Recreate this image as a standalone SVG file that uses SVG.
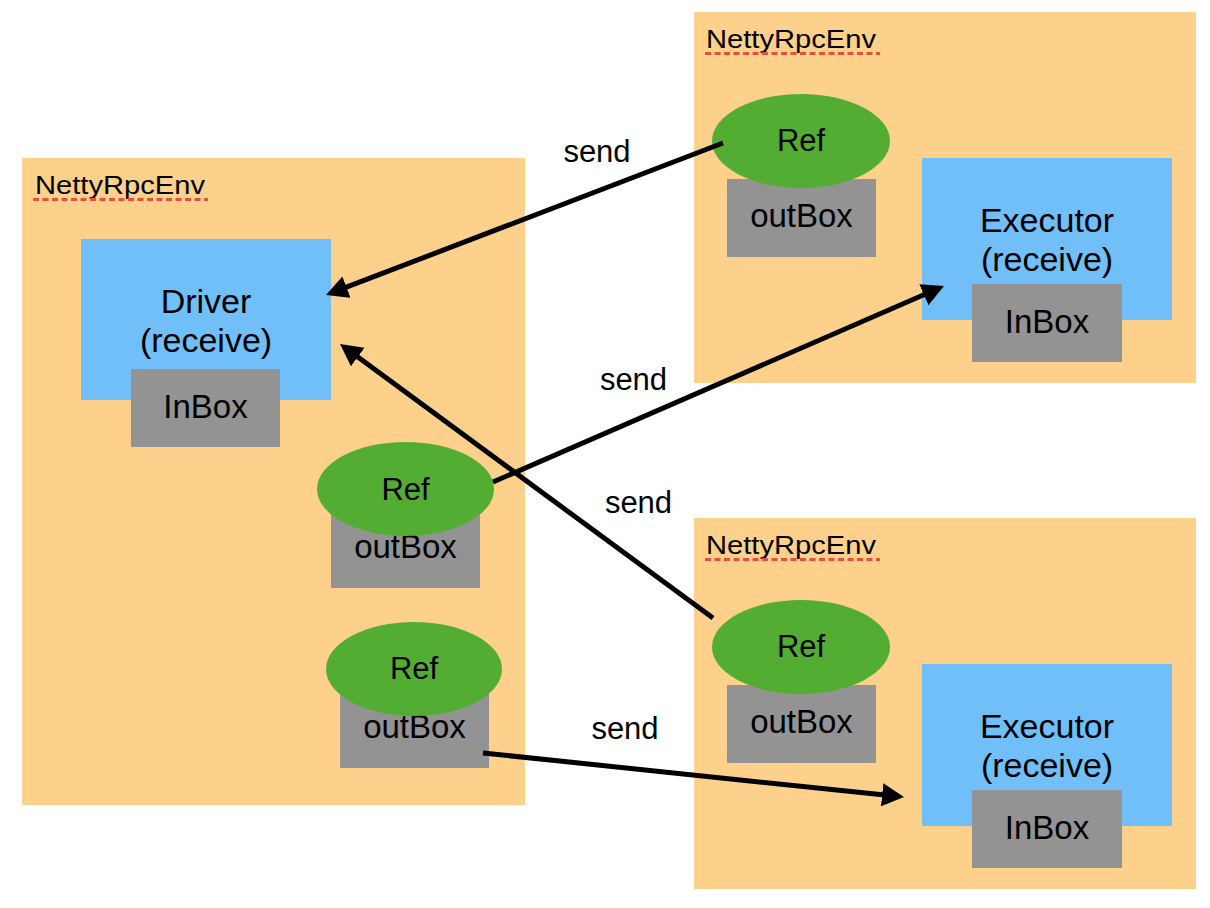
<svg xmlns="http://www.w3.org/2000/svg" width="1210" height="908" viewBox="0 0 1210 908">
<style>
.env{fill:#fdd08b}
.proc{fill:#70bff9}
.box{fill:#939393}
.ref{fill:#54ad33}
.t{font-family:"Liberation Sans",Arial,sans-serif;fill:#000;text-anchor:middle}
.lbl{font-size:34px}
.bl{font-size:33px}
.rl{font-size:31px}
.send{font-size:31px}
.env-t{font-family:"Liberation Sans",Arial,sans-serif;font-size:26px;fill:#000}
.ul{stroke:#e8503e;stroke-width:3;stroke-dasharray:6 3.5;fill:none}
.conn{stroke:#000;stroke-width:5;fill:none;marker-end:url(#ah)}
</style>
<defs>
<marker id="ah" markerUnits="userSpaceOnUse" markerWidth="24" markerHeight="24" refX="10" refY="11.5" orient="auto">
<path d="M0,0 L22,11.5 L0,23 z" fill="#000"/>
</marker>
</defs>
<rect width="1210" height="908" fill="#fff"/>

<g id="env-driver">
<rect class="env" x="22" y="158" width="503" height="647"/>
<text class="env-t" x="35" y="194" textLength="170" lengthAdjust="spacingAndGlyphs">NettyRpcEnv</text>
<line class="ul" x1="33" y1="199.5" x2="208" y2="199.5"/>
</g>
<g id="env-exec1">
<rect class="env" x="694" y="12" width="502" height="371"/>
<text class="env-t" x="706" y="48" textLength="170" lengthAdjust="spacingAndGlyphs">NettyRpcEnv</text>
<line class="ul" x1="705" y1="53.5" x2="880" y2="53.5"/>
</g>
<g id="env-exec2">
<rect class="env" x="694" y="518" width="502" height="371"/>
<text class="env-t" x="706" y="554" textLength="170" lengthAdjust="spacingAndGlyphs">NettyRpcEnv</text>
<line class="ul" x1="705" y1="559.5" x2="880" y2="559.5"/>
</g>

<g id="driver">
<rect class="proc" x="81" y="239" width="250" height="161"/>
<text class="t lbl" x="206" y="313">Driver</text>
<text class="t lbl" x="206" y="352">(receive)</text>
</g>
<g id="driver-inbox">
<rect class="box" x="131" y="369" width="149" height="78"/>
<text class="t bl" x="205.5" y="418">InBox</text>
</g>
<g id="driver-outbox1">
<rect class="box" x="331" y="510" width="149" height="78"/>
<text class="t bl" x="405.5" y="558">outBox</text>
</g>
<g id="driver-ref1">
<ellipse class="ref" cx="405.5" cy="489" rx="88.5" ry="47"/>
<text class="t rl" x="405.5" y="500">Ref</text>
</g>
<g id="driver-outbox2">
<rect class="box" x="340" y="690" width="149" height="78"/>
<text class="t bl" x="414.5" y="738">outBox</text>
</g>
<g id="driver-ref2">
<ellipse class="ref" cx="414" cy="669" rx="88" ry="47"/>
<text class="t rl" x="414" y="679">Ref</text>
</g>

<g id="exec1-outbox">
<rect class="box" x="727" y="179" width="149" height="78"/>
<text class="t bl" x="801.5" y="227">outBox</text>
</g>
<g id="exec1-ref">
<ellipse class="ref" cx="801" cy="141" rx="89" ry="47"/>
<text class="t rl" x="801" y="151">Ref</text>
</g>
<g id="executor1">
<rect class="proc" x="922" y="158" width="250" height="162"/>
<text class="t lbl" x="1047" y="232">Executor</text>
<text class="t lbl" x="1047" y="271">(receive)</text>
</g>
<g id="exec1-inbox">
<rect class="box" x="972" y="284" width="150" height="78"/>
<text class="t bl" x="1047" y="333">InBox</text>
</g>

<g id="exec2-outbox">
<rect class="box" x="727" y="685" width="149" height="78"/>
<text class="t bl" x="801.5" y="733">outBox</text>
</g>
<g id="exec2-ref">
<ellipse class="ref" cx="801" cy="647" rx="89" ry="47"/>
<text class="t rl" x="801" y="657">Ref</text>
</g>
<g id="executor2">
<rect class="proc" x="922" y="664" width="250" height="162"/>
<text class="t lbl" x="1047" y="738">Executor</text>
<text class="t lbl" x="1047" y="777">(receive)</text>
</g>
<g id="exec2-inbox">
<rect class="box" x="972" y="790" width="150" height="78"/>
<text class="t bl" x="1047" y="839">InBox</text>
</g>

<g id="connectors">
<line class="conn" x1="723" y1="143" x2="337.2" y2="290.7"/>
<line class="conn" x1="493" y1="482" x2="933" y2="290.8"/>
<line class="conn" x1="713" y1="618" x2="349.7" y2="351.1"/>
<line class="conn" x1="483" y1="753" x2="892.1" y2="795.8"/>
<text class="t send" x="597" y="162">send</text>
<text class="t send" x="633.5" y="390">send</text>
<text class="t send" x="638.5" y="513">send</text>
<text class="t send" x="625" y="739">send</text>
</g>
</svg>
